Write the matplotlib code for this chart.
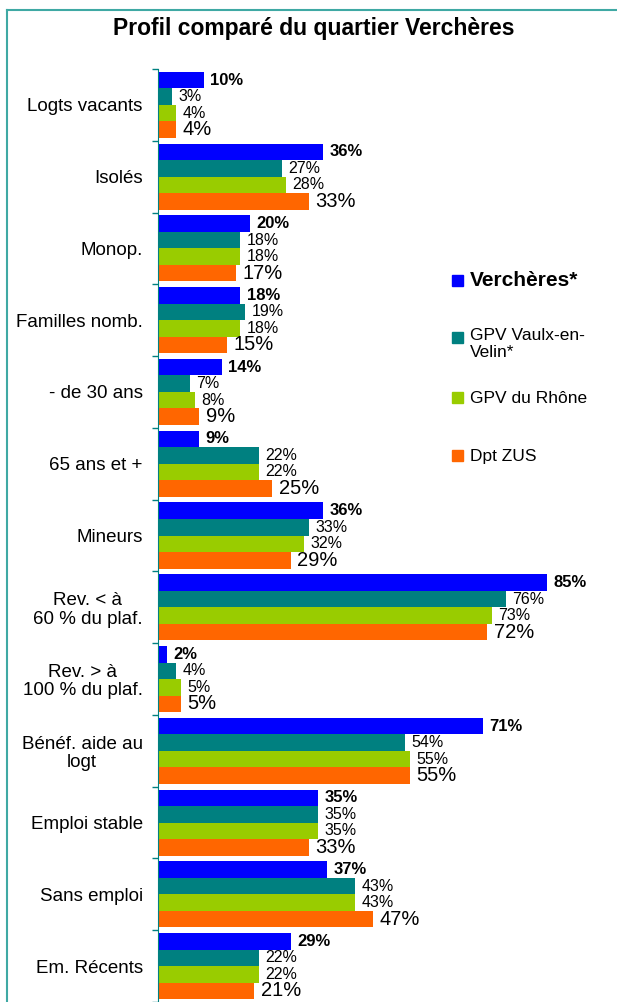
import numpy as np
import matplotlib.pyplot as plt
from matplotlib.patches import Rectangle

plt.rcParams['font.family'] = ['Liberation Sans', 'DejaVu Sans']

categories = [
    "Logts vacants", "Isolés", "Monop.", "Familles nomb.", "- de 30 ans",
    "65 ans et +", "Mineurs", "Rev. < à\n60 % du plaf.", "Rev. > à\n100 % du plaf.",
    "Bénéf. aide au\nlogt", "Emploi stable", "Sans emploi", "Em. Récents",
]
series = ["Verchères*", "GPV Vaulx-en-\nVelin*", "GPV du Rhône", "Dpt ZUS"]
vercheres = [10, 36, 20, 18, 14, 9, 36, 85, 2, 71, 35, 37, 29]
gpv_vaulx = [3, 27, 18, 19, 7, 22, 33, 76, 4, 54, 35, 43, 22]
gpv_rhone = [4, 28, 18, 18, 8, 22, 32, 73, 5, 55, 35, 43, 22]
dpt_zus = [4, 33, 17, 15, 9, 25, 29, 72, 5, 55, 33, 47, 21]

colors = ["#0000FF", "#008080", "#99CC00", "#FF6600"]
label_sizes = [12, 11.5, 11.5, 14.5]
label_weights = ["bold", "normal", "normal", "normal"]

W, H = 617, 1002
fig = plt.figure(figsize=(W / 100, H / 100), dpi=100)

# cadre du graphique
frame_color = "#3FA9A4"
fig.add_artist(plt.Line2D([7 / W, 7 / W], [0, 1 - 10 / H], transform=fig.transFigure,
                          color=frame_color, lw=1.5))
fig.add_artist(plt.Line2D([7 / W, 1], [1 - 10 / H, 1 - 10 / H], transform=fig.transFigure,
                          color=frame_color, lw=1.5))

fig.text(314 / W, 1 - 28 / H, "Profil comparé du quartier Verchères",
         ha="center", va="center", fontsize=16.5, fontweight="bold")

ax = fig.add_axes([158 / W, 0, 457.6 / W, (H - 69) / H])

y = np.arange(len(categories))
h = 0.23
data = [vercheres, gpv_vaulx, gpv_rhone, dpt_zus]
for k, vals in enumerate(data):
    ypos = y + (k - 1.5) * h
    ax.barh(ypos, vals, height=h, color=colors[k])
    for yy, v in zip(ypos, vals):
        ax.text(v + 1.4, yy, f"{v}%", va="center", ha="left",
                fontsize=label_sizes[k], fontweight=label_weights[k])

ax.set_xlim(0, 100)
ax.set_ylim(len(categories) - 0.5, -0.5)
ax.set_yticks(y)
ax.set_yticklabels(categories, fontsize=13.5, multialignment="center", linespacing=1.1)
ax.tick_params(axis="y", which="major", length=0, pad=11)
ax.set_yticks(np.arange(len(categories) + 1) - 0.5, minor=True)
ax.tick_params(axis="y", which="minor", length=4, color="#008080", width=1)
ax.set_xticks([])
for s in ["top", "right", "bottom"]:
    ax.spines[s].set_visible(False)
ax.spines["left"].set_color("#008080")

# légende
leg_y = [281, 338, 398, 456]
for k, name in enumerate(series):
    yy = leg_y[k]
    fig.add_artist(Rectangle((452 / W, 1 - (yy + 5) / H), 11 / W, 11 / H,
                             transform=fig.transFigure, color=colors[k]))
    if k == 0:
        fig.text(470 / W, 1 - yy / H, name, va="center", ha="left",
                 fontsize=15, fontweight="bold")
    elif "\n" in name:
        fig.text(470 / W, 1 - (yy - 10) / H, name, va="top", ha="left",
                 fontsize=12.5, linespacing=1.2)
    else:
        fig.text(470 / W, 1 - yy / H, name, va="center", ha="left",
                 fontsize=12.5)

fig.savefig("out.png", dpi=100)
